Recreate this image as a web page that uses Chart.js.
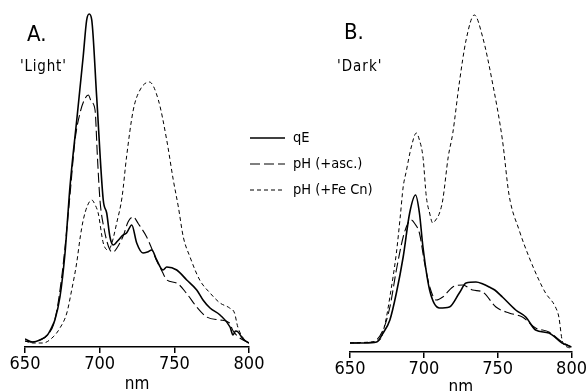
<!DOCTYPE html>
<html>
<head>
<meta charset="utf-8">
<script src="https://cdn.jsdelivr.net/npm/chart.js@4.4.1/dist/chart.umd.min.js"></script>
<style>
  html, body { margin: 0; padding: 0; background: #fff; }
  #wrap { position: relative; width: 588px; height: 391px; }
  #wrap canvas { position: absolute; left: 0; top: 0; }
</style>
</head>
<body>
<div id="wrap">
  <canvas id="chartA" width="588" height="391"></canvas>
  <canvas id="chartB" width="588" height="391"></canvas>
</div>
<script>
// tick labels on the wavelength axis
const xTicks = [650, 700, 750, 800];
const seriesNames = ['qE', 'pH (+asc.)', 'pH (+Fe Cn)'];

// A. 'Light'
const lightQeNm  = [650, 655, 660, 665, 668, 670, 673.4, 676.8, 678.8, 680.1, 685, 689, 691.3, 693, 694.7, 698, 702.4, 704.7, 706.9, 709.1, 712, 715.6, 718, 721.5, 724.8, 729, 732, 734.9, 738.2, 742.4, 744.9, 751.6, 758.3, 765, 769.2, 773.9, 780.6, 787.3, 789.3, 791, 792.7, 796, 800];
const lightQe    = [8, 5, 7, 12, 20, 27, 50, 94, 134, 160, 232, 291, 327, 333, 327, 250, 147, 134, 110, 102, 106, 112, 114, 122, 104, 94, 95, 97, 87, 77, 80, 77, 67, 57, 47, 39, 32, 20, 12, 16, 15, 8, 4];
const lightAscNm = [650, 655, 660, 665, 670, 675, 680, 683.5, 687, 690, 692.4, 694.5, 696.9, 698.5, 700.2, 703, 706.9, 709, 712, 716, 719, 722.5, 726, 731.5, 735, 738, 742, 745, 751.6, 758, 765, 771.7, 780.6, 787, 789, 793, 800];
const lightAsc   = [6, 5, 7, 12, 27, 75, 150, 207, 235, 248, 252, 245, 237, 190, 147, 118, 97, 95, 100, 112, 125, 130, 123, 110, 98, 87, 75, 67, 64, 54, 40, 30, 27, 24, 17, 10, 4];
const lightFeNm  = [650, 655, 662, 668.8, 673, 678, 681, 684.6, 687, 689, 692, 694.7, 697, 699, 702.4, 705.8, 708, 711.4, 715, 718, 722.5, 727, 733.3, 739.3, 744.9, 749.3, 752.7, 756, 760.5, 767, 773.9, 780.6, 787, 790.3, 792.5, 798.5, 800];
const lightFe    = [6, 4, 4, 10, 18, 34, 55, 84, 110, 127, 142, 147, 142, 134, 104, 97, 103, 124, 150, 190, 237, 257, 265, 247, 207, 167, 140, 110, 90, 67, 54, 44, 39, 34, 20, 5, 4];

// B. 'Dark'
const darkQeNm  = [650, 660, 668, 672.4, 677, 681.4, 686, 690.4, 694.4, 697, 699.4, 703.9, 710.6, 717.3, 724, 728.6, 735.3, 740, 744.3, 748, 753.2, 762.2, 769, 775.7, 784.7, 793.6, 800];
const darkQe    = [9, 9, 10, 19, 32, 59, 95, 139, 157, 139, 105, 62, 44, 45, 59, 69, 70, 68, 65, 62, 55, 42, 35, 22, 19, 9, 5];
const darkAscNm = [650, 665, 672.4, 677, 681.4, 686, 689, 691.5, 694, 697, 700.5, 704, 708.4, 712.8, 719.6, 726.3, 733, 739.8, 748.8, 757.7, 766.7, 775.7, 784.7, 793.6, 800];
const darkAsc   = [9, 10, 22, 45, 82, 115, 128, 132, 128, 119, 89, 65, 52, 55, 65, 67, 62, 60, 45, 39, 35, 24, 20, 10, 5];
const darkFeNm  = [650, 665, 670.2, 674, 677, 681.4, 684, 686, 688, 691.5, 694.9, 697, 699.4, 701.7, 703.9, 706, 708, 710.6, 712.8, 716.5, 719.6, 724, 728.6, 734.2, 739.8, 746.5, 753.2, 757.7, 764.5, 771.2, 777.9, 782.4, 789.1, 791.4, 793.6, 797, 800];
const darkFe    = [9, 10, 12, 30, 55, 99, 135, 165, 180, 205, 219, 212, 195, 155, 139, 129, 132, 139, 152, 195, 219, 269, 312, 337, 315, 269, 212, 157, 122, 95, 72, 59, 45, 35, 12, 5, 4];

const FONT = "'DejaVu Sans Condensed', 'DejaVu Sans', sans-serif";
const lineStyles = [
  { borderWidth: 1.6, borderDash: [] },
  { borderWidth: 1.1, borderDash: [10, 4] },
  { borderWidth: 1.0, borderDash: [4, 3] }
];

function pts(nm, vals) {
  return nm.map((x, i) => ({ x: x, y: vals[i] }));
}

function makeDatasets(groups) {
  return groups.map((g, i) => ({
    label: seriesNames[i],
    data: pts(g[0], g[1]),
    borderColor: '#000',
    borderWidth: lineStyles[i].borderWidth,
    borderDash: lineStyles[i].borderDash,
    pointRadius: 0,
    fill: false,
    cubicInterpolationMode: 'monotone'
  }));
}

// draws panel letters, captions and the shared key
const notesPlugin = {
  id: 'notes',
  afterDraw(chart, args, opts) {
    const ctx = chart.ctx;
    ctx.save();
    ctx.fillStyle = '#000';
    ctx.textBaseline = 'middle';
    ctx.textAlign = 'left';
    (opts.texts || []).forEach(t => {
      ctx.font = t.size + 'px ' + FONT;
      ctx.letterSpacing = (t.spacing || 0) + 'px';
      ctx.fillText(t.text, t.x, t.y);
    });
    ctx.letterSpacing = '0px';
    if (opts.key) {
      const k = opts.key;
      chart.data.datasets.forEach((ds, i) => {
        const y = k.y + i * k.gap;
        ctx.strokeStyle = '#000';
        ctx.lineWidth = ds.borderWidth;
        ctx.setLineDash(ds.borderDash);
        ctx.beginPath();
        ctx.moveTo(k.x, y);
        ctx.lineTo(k.x + k.len, y);
        ctx.stroke();
        ctx.setLineDash([]);
        ctx.font = k.size + 'px ' + FONT;
        ctx.fillText(ds.label, k.x + k.len + 8, y);
      });
    }
    ctx.restore();
  }
};

function makeChart(id, groups, pad, axisH, yMax, titleLH, notes) {
  return new Chart(document.getElementById(id), {
    type: 'line',
    data: { datasets: makeDatasets(groups) },
    plugins: [notesPlugin],
    options: {
      responsive: false,
      animation: false,
      layout: { padding: pad },
      plugins: {
        legend: { display: false },
        tooltip: { enabled: false },
        notes: notes
      },
      scales: {
        x: {
          type: 'linear',
          min: 650,
          max: 800,
          afterFit: s => { s.height = axisH; },
          afterBuildTicks: s => { s.ticks = xTicks.map(v => ({ value: v })); },
          ticks: { color: '#000', font: { family: FONT, size: 18 }, padding: 1, maxRotation: 0 },
          grid: { drawOnChartArea: false, drawTicks: true, tickLength: 6, color: '#000', lineWidth: 1.5 },
          border: { display: true, color: '#000', width: 1.5 },
          title: { display: true, text: 'nm', color: '#000', font: { family: FONT, size: 17, lineHeight: titleLH }, padding: 0 }
        },
        y: { display: false, min: 0, max: yMax }
      }
    }
  });
}

makeChart('chartA',
  [[lightQeNm, lightQe], [lightAscNm, lightAsc], [lightFeNm, lightFe]],
  { left: 25, right: 339, top: 0, bottom: 0 }, 44, 347, '12px',
  {
    texts: [
      { text: 'A.', x: 27, y: 35, size: 22 },
      { text: "'Light'", x: 20, y: 67, size: 15, spacing: 0.8 }
    ],
    key: { x: 250, y: 138, gap: 26, len: 35, size: 14.5 }
  });

makeChart('chartB',
  [[darkQeNm, darkQe], [darkAscNm, darkAsc], [darkFeNm, darkFe]],
  { left: 350, right: 15, top: 0, bottom: 0 }, 39, 352, '6px',
  {
    texts: [
      { text: 'B.', x: 344, y: 33, size: 22 },
      { text: "'Dark'", x: 337, y: 67, size: 15, spacing: 1 }
    ]
  });
</script>
</body>
</html>
